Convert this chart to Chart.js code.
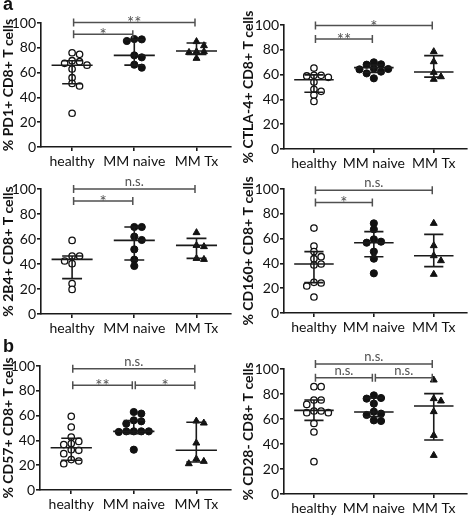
<!DOCTYPE html>
<html>
<head>
<meta charset="utf-8">
<script src="https://cdn.jsdelivr.net/npm/chart.js@4.4.1/dist/chart.umd.min.js"></script>
<style>
  body { margin: 0; background: #fff; }
  #fig { position: relative; width: 472px; height: 517px; overflow: hidden; background: #fff; }
  .panel { position: absolute; }
  .tag { position: absolute; font: bold 18px "Liberation Sans", Arial, sans-serif; color: #111; line-height: 18px; }
</style>
</head>
<body>
<div id="fig">
  <div class="panel" style="left:0;top:0;width:236px;height:170px"><canvas id="c1"></canvas></div>
  <div class="panel" style="left:236px;top:0;width:236px;height:170px"><canvas id="c2"></canvas></div>
  <div class="panel" style="left:0;top:170px;width:236px;height:170px"><canvas id="c3"></canvas></div>
  <div class="panel" style="left:236px;top:170px;width:236px;height:170px"><canvas id="c4"></canvas></div>
  <div class="panel" style="left:0;top:340px;width:236px;height:177px"><canvas id="c5"></canvas></div>
  <div class="panel" style="left:236px;top:340px;width:236px;height:177px"><canvas id="c6"></canvas></div>
  <div class="tag" style="left:3px;top:-5px">a</div>
  <div class="tag" style="left:3px;top:337px">b</div>
</div>
<script>
const groups = ["healthy", "MM naive", "MM Tx"];
const yTicks = [0, 20, 40, 60, 80, 100];

// PD1+
const pd1Healthy = [76, 74.7, 69.6, 68.8, 67.5, 66, 62.9, 55.9, 51.3, 49.2, 27.2];
const pd1Naive = [87.1, 85.5, 86.8, 73.9, 72.3, 66.4, 64];
const pd1Tx = [85, 81.7, 76.9, 76.3, 76.9, 71.5];
const pd1Median = [65.9, 73.9, 77.4];
const pd1Q1 = [51, 66, 74.7];
const pd1Q3 = [69.6, 86.5, 83.9];
const pd1Sig = [[0, 1, 91, "*"], [0, 2, 100.5, "**"]];

// CTLA-4+
const ctlaHealthy = [65.3, 59.4, 58.9, 57.8, 59.4, 54, 48.1, 46.5, 43.5, 38.4];
const ctlaNaive = [68, 69.9, 68.3, 64.2, 64.5, 65, 62.4, 61, 57];
const ctlaTx = [78.5, 70.4, 61.8, 56.2, 58.3];
const ctlaMedian = [55.9, 65.6, 62.1];
const ctlaQ1 = [45.8, 61.8, 58];
const ctlaQ3 = [59.8, 67.7, 75.3];
const ctlaSig = [[0, 1, 88.7, "**"], [0, 2, 99.5, "*"]];

// 2B4+
const b4Healthy = [58.9, 46.4, 46.4, 42.4, 40.3, 24.3, 19.7];
const b4Naive = [69.6, 69.6, 61.9, 59.2, 51.7, 43.5, 38.4];
const b4Tx = [65.1, 54.9, 53.9, 43.7, 44.5];
const b4Median = [43.7, 58.9, 54.9];
const b4Q1 = [28.3, 43.2, 44.5];
const b4Q3 = [46.4, 69.6, 60.5];
const b4Sig = [[0, 1, 90.4, "*"], [0, 2, 100, "n.s."]];

// CD160+
const cd160Healthy = [68.5, 54, 49.5, 45.4, 43.8, 38.7, 39.5, 24.2, 21.8, 24.7, 12.9];
const cd160Naive = [72.3, 67.5, 59.4, 56.7, 57.5, 49.5, 43.8, 32];
const cd160Tx = [72.3, 54.3, 46.2, 42.2, 31.2];
const cd160Median = [39.5, 56.7, 46.2];
const cd160Q1 = [24.5, 45.4, 37.4];
const cd160Q3 = [49.5, 65.6, 63.4];
const cd160Sig = [[0, 1, 89.2, "*"], [0, 2, 98.9, "n.s."]];

// CD57+
const cd57Healthy = [59.4, 50.8, 42.7, 39.2, 37.4, 36.6, 32, 32.5, 29.3, 24.5, 23.4, 21.2];
const cd57Naive = [62.9, 61.6, 56.2, 53.5, 55.4, 47.3, 47.3, 46.8, 47.3, 47.3, 32.5];
const cd57Tx = [54, 55.6, 37.9, 25, 21.2, 23.1];
const cd57Median = [34.1, 47.3, 32];
const cd57Q1 = [24, 45.5, 22.6];
const cd57Q3 = [41.7, 56, 54.6];
const cd57Sig = [[0, 1, 84.4, "**"], [1, 2, 84.4, "*"], [0, 2, 97.8, "n.s."]];

// CD28-
const cd28Healthy = [85.9, 85.9, 75.2, 75.2, 71.7, 66.4, 65.1, 65.1, 66.4, 56.5, 49.6, 25.9];
const cd28Naive = [76.8, 78.9, 76.3, 72.3, 63.2, 65.9, 64.3, 58.4, 58.9];
const cd28Tx = [91.2, 76.3, 74.4, 65.9, 46.9, 30.9];
const cd28Median = [66.9, 65.6, 70.4];
const cd28Q1 = [58.9, 61.9, 43.2];
const cd28Q3 = [75.2, 76.8, 80.3];
const cd28Sig = [[0, 1, 93, "n.s."], [1, 2, 93, "n.s."], [0, 2, 104, "n.s."]];

const axisColor = "#1a1a1a";
const sigColor = "#505050";

// simple beeswarm: points that would overlap are moved sideways into slots
function swarm(vals, cat) {
    const step = 0.12, tol = 4.5;
    const slots = [0, 1, -1, 2, -2, 3, -3];
    const order = vals.map((v, i) => i).sort((a, b) => vals[b] - vals[a]);
    const placed = [];
    const out = [];
    order.forEach(i => {
        const v = vals[i];
        const s = slots.find(s => !placed.some(p => p.s === s && Math.abs(p.v - v) < tol));
        placed.push({ s: s, v: v });
        out.push({ x: cat + s * step, y: v });
    });
    return out;
}

const summaryPlugin = {
    id: "summary",
    afterDatasetsDraw(chart) {
        const ctx = chart.ctx;
        const xs = chart.scales.x, ys = chart.scales.y;
        const o = chart.options.plugins.summary;
        ctx.save();
        // median + interquartile range
        ctx.strokeStyle = axisColor;
        ctx.lineWidth = 1.6;
        o.median.forEach((m, i) => {
            const xc = xs.getPixelForValue(i);
            const wMed = xs.getPixelForValue(i + 0.33) - xc;
            const wCap = xs.getPixelForValue(i + 0.16) - xc;
            ctx.beginPath();
            ctx.moveTo(xc - wMed, ys.getPixelForValue(m));
            ctx.lineTo(xc + wMed, ys.getPixelForValue(m));
            [o.q1[i], o.q3[i]].forEach(q => {
                ctx.moveTo(xc - wCap, ys.getPixelForValue(q));
                ctx.lineTo(xc + wCap, ys.getPixelForValue(q));
            });
            ctx.moveTo(xc, ys.getPixelForValue(o.q1[i]));
            ctx.lineTo(xc, ys.getPixelForValue(o.q3[i]));
            ctx.stroke();
        });
        // significance brackets
        ctx.strokeStyle = sigColor;
        ctx.fillStyle = sigColor;
        ctx.lineWidth = 1.5;
        ctx.textAlign = "center";
        ctx.textBaseline = "alphabetic";
        o.sig.forEach(b => {
            const x1 = xs.getPixelForValue(b[0]) + 1.5;
            const x2 = xs.getPixelForValue(b[1]) - 1.5;
            const y = ys.getPixelForValue(b[2]);
            ctx.beginPath();
            ctx.moveTo(x1, y); ctx.lineTo(x2, y);
            ctx.moveTo(x1, y - 4); ctx.lineTo(x1, y + 4);
            ctx.moveTo(x2, y - 4); ctx.lineTo(x2, y + 4);
            ctx.stroke();
            if (b[3].indexOf("*") >= 0) {
                ctx.font = "17px Lato";
                ctx.fillText(b[3], (x1 + x2) / 2, y + 7);
            } else {
                ctx.font = "13px Lato";
                ctx.fillText(b[3], (x1 + x2) / 2, y - 3);
            }
        });
        ctx.restore();
    }
};

function makePanel(id, p) {
    const canvas = document.getElementById(id);
    const H = canvas.parentNode.clientHeight;
    return new Chart(canvas, {
        type: "scatter",
        data: {
            datasets: [
                { data: swarm(p.vals[0], 0), pointStyle: "circle", pointRadius: 3.2, borderWidth: 1.3,
                  borderColor: "#111", backgroundColor: "#fff" },
                { data: swarm(p.vals[1], 1), pointStyle: "circle", pointRadius: 3.6, borderWidth: 1,
                  borderColor: "#111", backgroundColor: "#111" },
                { data: swarm(p.vals[2], 2), pointStyle: "triangle", pointRadius: 4, borderWidth: 1,
                  borderColor: "#111", backgroundColor: "#111" },
            ],
        },
        options: {
            responsive: true,
            maintainAspectRatio: false,
            animation: false,
            layout: { padding: { top: p.top, right: p.right, left: 0, bottom: 0 } },
            plugins: {
                legend: { display: false },
                tooltip: { enabled: false },
                summary: { median: p.median, q1: p.q1, q3: p.q3, sig: p.sig },
            },
            scales: {
                x: {
                    type: "linear", min: -0.5, max: 2.55,
                    afterBuildTicks: s => { s.ticks = [0, 1, 2].map(v => ({ value: v })); },
                    afterFit: s => { s.height = H - p.bottom; },
                    ticks: { autoSkip: false, maxRotation: 0, padding: 2, color: "#111",
                             font: { family: "Lato", size: 14 }, callback: v => groups[v] },
                    grid: { drawOnChartArea: false, drawTicks: true, tickLength: 4, color: axisColor, lineWidth: 1.6 },
                    border: { color: axisColor, width: 1.6 },
                },
                y: {
                    min: 0, max: 100,
                    afterBuildTicks: s => { s.ticks = yTicks.map(v => ({ value: v })); },
                    afterFit: s => { s.width = p.left; },
                    ticks: { padding: 1, color: "#111", font: { family: "Lato", size: 14 } },
                    grid: { drawOnChartArea: false, drawTicks: true, tickLength: 4, color: axisColor, lineWidth: 1.6 },
                    border: { color: axisColor, width: 1.6 },
                    title: { display: true, text: p.title, color: "#111",
                             font: { family: "Lato", size: 14, weight: "bold" }, padding: { top: p.tpad, bottom: 0 } },
                },
            },
        },
        plugins: [summaryPlugin],
    });
}

makePanel("c1", { title: "% PD1+ CD8+ T cells", vals: [pd1Healthy, pd1Naive, pd1Tx],
    median: pd1Median, q1: pd1Q1, q3: pd1Q3, sig: pd1Sig, top: 23, left: 41, right: 3, bottom: 147, tpad: 0 });
makePanel("c2", { title: "% CTLA-4+ CD8+ T cells", vals: [ctlaHealthy, ctlaNaive, ctlaTx],
    median: ctlaMedian, q1: ctlaQ1, q3: ctlaQ3, sig: ctlaSig, top: 25, left: 48, right: 0, bottom: 149, tpad: 4 });
makePanel("c3", { title: "% 2B4+ CD8+ T cells", vals: [b4Healthy, b4Naive, b4Tx],
    median: b4Median, q1: b4Q1, q3: b4Q3, sig: b4Sig, top: 19, left: 41, right: 3, bottom: 144, tpad: 0 });
makePanel("c4", { title: "% CD160+ CD8+ T cells", vals: [cd160Healthy, cd160Naive, cd160Tx],
    median: cd160Median, q1: cd160Q1, q3: cd160Q3, sig: cd160Sig, top: 19, left: 48, right: 0, bottom: 143, tpad: 4 });
makePanel("c5", { title: "% CD57+ CD8+ T cells", vals: [cd57Healthy, cd57Naive, cd57Tx],
    median: cd57Median, q1: cd57Q1, q3: cd57Q3, sig: cd57Sig, top: 26, left: 40, right: 3, bottom: 150, tpad: 0 });
makePanel("c6", { title: "% CD28- CD8+ T cells", vals: [cd28Healthy, cd28Naive, cd28Tx],
    median: cd28Median, q1: cd28Q1, q3: cd28Q3, sig: cd28Sig, top: 29, left: 48, right: 0, bottom: 154, tpad: 4 });
</script>
</body>
</html>
